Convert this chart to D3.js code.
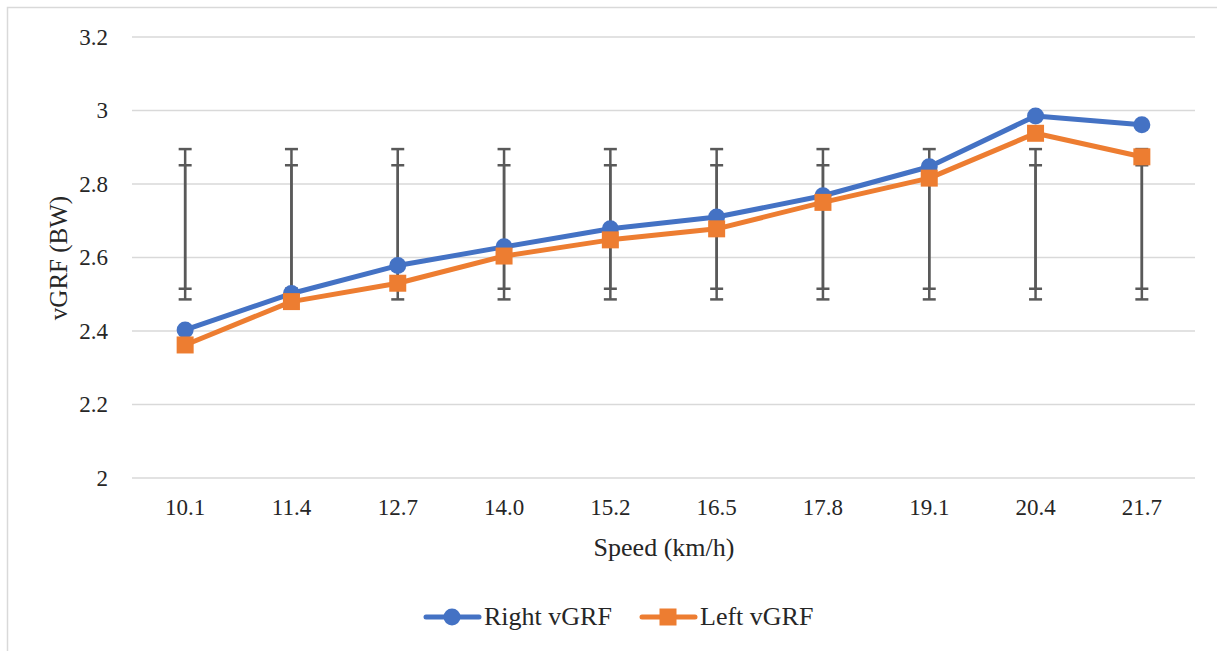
<!DOCTYPE html>
<html>
<head>
<meta charset="utf-8">
<script src="https://cdn.jsdelivr.net/npm/d3@7"></script>
<style>
  body { margin: 0; background: #fff; }
</style>
</head>
<body>
<svg id="chart" width="1217" height="651"></svg>
<script>
const speeds = ['10.1', '11.4', '12.7', '14.0', '15.2', '16.5', '17.8', '19.1', '20.4', '21.7'];
const rightVals = [2.403, 2.502, 2.578, 2.629, 2.678, 2.710, 2.768, 2.847, 2.985, 2.961];
const leftVals = [2.362, 2.480, 2.530, 2.604, 2.648, 2.678, 2.750, 2.816, 2.938, 2.874];
// error bars (same range drawn at every category, one per series)
const outerBar = [2.486, 2.895];
const innerBar = [2.515, 2.851];
const yTicks = [2, 2.2, 2.4, 2.6, 2.8, 3, 3.2];

const FONT = '"Liberation Serif", "DejaVu Serif", "Times New Roman", serif';
const margin = { left: 132, right: 22, top: 37, bottom: 173 };
const W = 1217, H = 651;
const svg = d3.select('#chart');

// outer chart border (only top/left visible in the picture)
svg.append('rect').attr('x', 7.5).attr('y', 7.5).attr('width', W + 20).attr('height', H + 20)
  .attr('fill', 'none').attr('stroke', '#d9d9d9').attr('stroke-width', 1.5);

const x = d3.scaleBand().domain(speeds).range([margin.left, W - margin.right]);
const y = d3.scaleLinear().domain([2, 3.2]).range([H - margin.bottom, margin.top]);
const cx = d => x(d) + x.bandwidth() / 2;

// grid
svg.append('g').selectAll('line').data(yTicks).enter().append('line')
  .attr('x1', margin.left).attr('x2', W - margin.right)
  .attr('y1', d => y(d)).attr('y2', d => y(d))
  .attr('stroke', '#d9d9d9').attr('stroke-width', 1.5);

// y axis labels
const yAxis = svg.append('g').attr('transform', `translate(${margin.left},0)`)
  .call(d3.axisLeft(y).tickValues(yTicks).tickSize(0).tickPadding(24).tickFormat(d3.format('')));
yAxis.select('.domain').remove();
yAxis.selectAll('text').style('font-family', FONT).style('font-size', '23px').attr('fill', '#262626');

// x axis labels
const xAxis = svg.append('g').attr('transform', `translate(0,${y(2)})`)
  .call(d3.axisBottom(x).tickSize(0).tickPadding(21));
xAxis.select('.domain').remove();
xAxis.selectAll('text').style('font-family', FONT).style('font-size', '23px').attr('fill', '#262626');

// axis titles
svg.append('text').attr('x', 664).attr('y', 556).attr('text-anchor', 'middle')
  .style('font-family', FONT).style('font-size', '26px').attr('fill', '#262626').text('Speed (km/h)');
svg.append('text').attr('transform', 'translate(67,258) rotate(-90)').attr('text-anchor', 'middle')
  .style('font-family', FONT).style('font-size', '25px').attr('fill', '#262626').text('vGRF (BW)');

// error bars
const capW = 11;
[outerBar, innerBar].forEach(bar => {
  const g = svg.append('g').attr('stroke', '#595959').attr('stroke-width', 2.5);
  speeds.forEach(s => {
    g.append('line').attr('x1', cx(s)).attr('x2', cx(s)).attr('y1', y(bar[0])).attr('y2', y(bar[1]));
    bar.forEach(v => g.append('line').attr('x1', cx(s) - capW / 2 - 1).attr('x2', cx(s) + capW / 2 + 1)
      .attr('y1', y(v)).attr('y2', y(v)));
  });
});

const line = d3.line().x((d, i) => cx(speeds[i])).y(d => y(d));
const r = 8.5, sq = 17;

// right series
svg.append('path').datum(rightVals).attr('d', line).attr('fill', 'none')
  .attr('stroke', '#4472c4').attr('stroke-width', 5).attr('stroke-linejoin', 'round');
svg.append('g').selectAll('circle').data(rightVals).enter().append('circle')
  .attr('cx', (d, i) => cx(speeds[i])).attr('cy', d => y(d)).attr('r', r).attr('fill', '#4472c4');

// left series
svg.append('path').datum(leftVals).attr('d', line).attr('fill', 'none')
  .attr('stroke', '#ed7d31').attr('stroke-width', 5).attr('stroke-linejoin', 'round');
svg.append('g').selectAll('rect').data(leftVals).enter().append('rect')
  .attr('x', (d, i) => cx(speeds[i]) - sq / 2).attr('y', d => y(d) - sq / 2)
  .attr('width', sq).attr('height', sq).attr('fill', '#ed7d31');

// legend
const legY = 617;
const leg = svg.append('g');
leg.append('line').attr('x1', 426).attr('x2', 479).attr('y1', legY).attr('y2', legY)
  .attr('stroke', '#4472c4').attr('stroke-width', 5).attr('stroke-linecap', 'round');
leg.append('circle').attr('cx', 452).attr('cy', legY).attr('r', r).attr('fill', '#4472c4');
leg.append('text').attr('x', 484).attr('y', legY + 8).style('font-family', FONT).style('font-size', '26px')
  .attr('fill', '#262626').text('Right vGRF');
leg.append('line').attr('x1', 642).attr('x2', 695).attr('y1', legY).attr('y2', legY)
  .attr('stroke', '#ed7d31').attr('stroke-width', 5).attr('stroke-linecap', 'round');
leg.append('rect').attr('x', 668 - sq / 2).attr('y', legY - sq / 2).attr('width', sq).attr('height', sq).attr('fill', '#ed7d31');
leg.append('text').attr('x', 700).attr('y', legY + 8).style('font-family', FONT).style('font-size', '26px')
  .attr('fill', '#262626').text('Left vGRF');
</script>
</body>
</html>
